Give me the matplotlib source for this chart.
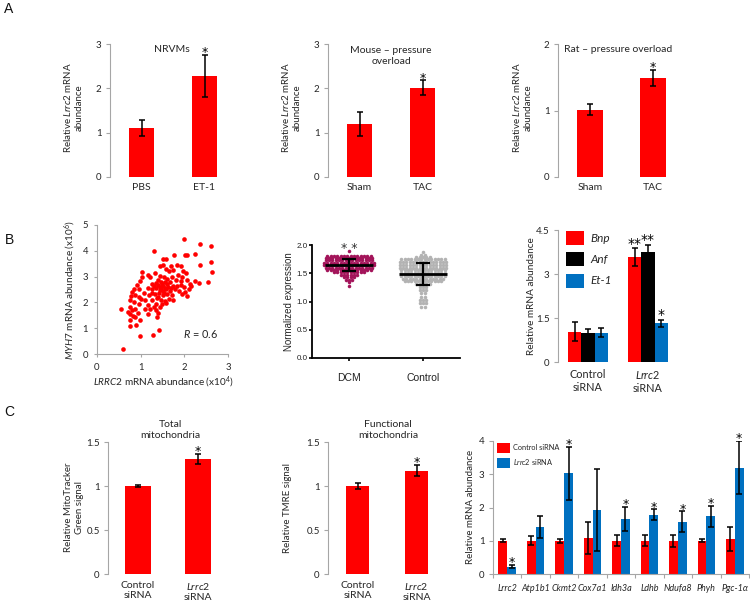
import matplotlib
matplotlib.use('Agg')
import matplotlib.pyplot as plt
from matplotlib.patches import Patch
import numpy as np

plt.rcParams['font.family'] = ['Lato', 'DejaVu Sans']
plt.rcParams['mathtext.fontset'] = 'custom'
plt.rcParams['mathtext.rm'] = 'Lato'
plt.rcParams['mathtext.it'] = 'Lato:italic'
plt.rcParams['mathtext.bf'] = 'Lato:bold'

# ---------------- data ----------------
# Panel A
a1_cats = ['PBS', 'ET-1']
a1_vals = [1.10, 2.28]
a1_err = [0.175, 0.47]
a1_sig = ['', '*']

a2_cats = ['Sham', 'TAC']
a2_vals = [1.20, 2.01]
a2_err = [0.27, 0.17]
a2_sig = ['', '*']

a3_cats = ['Sham', 'TAC']
a3_vals = [1.01, 1.49]
a3_err = [0.085, 0.125]
a3_sig = ['', '*']

# Panel B1 scatter (LRRC2 x10^4, MYH7 x10^6)
scat_x = [1.99, 2.36, 2.60, 1.31, 1.77, 2.02, 2.07, 2.25, 1.51, 1.57, 2.62, 2.37, 1.45, 1.51,
          1.70, 1.83, 1.93, 1.02, 1.16, 1.32, 1.58, 1.66, 1.75, 1.98, 2.04, 2.63, 1.02, 1.21,
          1.45, 1.54, 1.61, 1.72, 1.86, 1.95, 0.98, 2.24, 2.33, 2.54, 1.39, 1.46, 1.55, 1.67,
          1.81, 1.92, 2.05, 2.12, 0.91, 1.25, 1.31, 1.40, 1.51, 1.60, 1.74, 1.83, 1.93, 1.99,
          2.16, 0.85, 0.81, 0.97, 1.17, 1.26, 1.34, 1.46, 1.57, 1.67, 1.78, 1.87, 2.01, 2.10,
          0.78, 0.88, 0.96, 1.08, 1.19, 1.25, 1.32, 1.42, 1.51, 1.61, 1.72, 1.95, 2.05, 0.75,
          0.85, 1.00, 1.11, 1.25, 1.37, 1.46, 1.55, 1.64, 1.74, 1.35, 1.48, 1.58, 0.96, 1.17,
          1.31, 0.75, 0.81, 0.87, 1.11, 1.22, 1.34, 1.45, 0.56, 0.72, 0.76, 0.83, 0.88, 0.99,
          0.75, 0.94, 1.17, 1.39, 1.37, 0.75, 0.90, 0.99, 1.29, 1.43, 0.59, 1.45, 1.50, 1.40,
          1.55, 1.35, 1.62, 1.70, 1.48, 1.53, 1.44]
scat_y = [4.44, 4.26, 4.20, 3.98, 3.85, 3.82, 3.85, 3.88, 3.70, 3.67, 3.55, 3.46, 3.41, 3.46,
          3.41, 3.45, 3.42, 3.18, 3.05, 3.13, 3.28, 3.23, 3.26, 3.20, 3.13, 3.17, 3.00, 2.97,
          3.02, 2.97, 2.89, 3.00, 3.05, 3.00, 2.84, 2.84, 2.74, 2.78, 2.87, 2.80, 2.80, 2.78,
          2.87, 2.84, 2.87, 2.71, 2.67, 2.70, 2.64, 2.67, 2.64, 2.71, 2.64, 2.64, 2.67, 2.58,
          2.64, 2.51, 2.42, 2.52, 2.57, 2.51, 2.55, 2.51, 2.53, 2.45, 2.51, 2.45, 2.42, 2.51,
          2.25, 2.29, 2.22, 2.35, 2.29, 2.38, 2.33, 2.35, 2.29, 2.33, 2.27, 2.33, 2.25, 2.09,
          2.03, 2.14, 2.09, 2.09, 2.16, 2.09, 2.07, 2.14, 2.09, 1.94, 1.94, 1.99, 1.94, 1.90,
          1.83, 1.83, 1.71, 1.76, 1.73, 1.73, 1.71, 1.81, 1.76, 1.64, 1.55, 1.47, 1.42, 1.32,
          1.32, 1.58, 1.55, 1.60, 1.42, 1.10, 1.11, 0.71, 0.75, 0.93, 0.19, 2.60, 2.45, 2.20,
          2.55, 2.75, 2.60, 2.55, 2.70, 2.38, 2.48]

# Panel B2 dot plot: value levels and number of samples per level
dcm_levels = [1.90, 1.81, 1.77, 1.73, 1.69, 1.65, 1.60, 1.56, 1.52, 1.47, 1.43, 1.38, 1.34, 1.28]
dcm_counts = [1, 14, 15, 15, 16, 16, 15, 14, 10, 6, 4, 3, 1, 1]
dcm_mean, dcm_sd = 1.64, 0.105
ctl_levels = [1.88, 1.83, 1.79, 1.75, 1.70, 1.65, 1.60, 1.55, 1.50, 1.45, 1.40, 1.36, 1.31,
              1.25, 1.20, 1.15, 1.08, 1.02, 0.97, 0.91]
ctl_counts = [1, 2, 5, 14, 15, 15, 15, 14, 14, 14, 13, 12, 5, 3, 3, 2, 2, 3, 3, 2]
ctl_mean, ctl_sd = 1.49, 0.20
b2_cats = ['DCM', 'Control']

# Panel B3
b3_groups = ['Control\nsiRNA', '$\\mathit{Lrrc2}$\nsiRNA']
b3_series = ['Bnp', 'Anf', 'Et-1']
b3_vals = {'Bnp': [1.03, 3.57], 'Anf': [0.98, 3.75], 'Et-1': [1.00, 1.32]}
b3_err = {'Bnp': [0.33, 0.30], 'Anf': [0.16, 0.24], 'Et-1': [0.15, 0.12]}
b3_sig = {'Bnp': ['', '**'], 'Anf': ['', '**'], 'Et-1': ['', '*']}

# Panel C
c1_cats = ['Control\nsiRNA', '$\\mathit{Lrrc2}$\nsiRNA']
c1_vals = [1.00, 1.31]
c1_err = [0.015, 0.055]
c1_sig = ['', '*']

c2_cats = ['Control\nsiRNA', '$\\mathit{Lrrc2}$\nsiRNA']
c2_vals = [1.00, 1.175]
c2_err = [0.035, 0.065]
c2_sig = ['', '*']

c3_genes = ['Lrrc2', 'Atp1b1', 'Ckmt2', 'Cox7a1', 'Idh3a', 'Ldhb', 'Ndufa8', 'Phyh', 'Pgc-1α']
c3_ctrl = [1.00, 1.00, 1.00, 1.07, 1.00, 1.00, 1.00, 1.00, 1.05]
c3_ctrl_err = [0.04, 0.14, 0.06, 0.48, 0.16, 0.16, 0.18, 0.04, 0.37]
c3_si = [0.22, 1.40, 3.03, 1.92, 1.65, 1.78, 1.57, 1.73, 3.20]
c3_si_err = [0.05, 0.33, 0.79, 1.24, 0.37, 0.16, 0.31, 0.33, 0.80]
c3_sig = ['*', '', '*', '', '*', '*', '*', '*', '*']

# ---------------- style ----------------
RED = '#ff0000'
BLUE = '#0070c0'
GRAY = '#a6a6a6'
TXT = '#262626'
DCM_C = '#a3145a'
CTL_C = '#b3b3b3'
STAR_FONT = ['DejaVu Sans']

W, H = 750, 601
fig = plt.figure(figsize=(7.5, 6.01), dpi=100)
fig.patch.set_facecolor('white')


def axpx(l, t, r, b):
    return fig.add_axes([l / W, 1 - b / H, (r - l) / W, (b - t) / H])


def ftext(x, y, s, **kw):
    kw.setdefault('color', TXT)
    return fig.text(x / W, 1 - y / H, s, **kw)


def star(ax, x, y, s, size=9, off=-1.0):
    ax.annotate(s, (x, y), xytext=(0, off), textcoords='offset points', ha='center',
                va='baseline', fontsize=size, color='black', family=STAR_FONT,
                annotation_clip=False)


def excel_axis(ax, ymax, yticks, labels=None, ylab_size=7):
    ax.set_ylim(0, ymax)
    for s in ['top', 'right', 'bottom']:
        ax.spines[s].set_visible(False)
    ax.spines['left'].set_color(GRAY)
    ax.spines['left'].set_linewidth(0.8)
    ax.tick_params(axis='y', colors=GRAY, labelcolor=TXT, length=3, width=0.8,
                   labelsize=ylab_size, pad=3)
    ax.tick_params(axis='x', length=0, labelsize=7.5, labelcolor=TXT, pad=4)
    ax.set_yticks(yticks)
    if labels is not None:
        ax.set_yticklabels(labels)
    ax.patch.set_visible(False)


def simple_bars(ax, cats, vals, errs, sigs, width, ymax, yticks, star_size=9):
    x = np.arange(len(cats))
    ax.bar(x, vals, width=width, color=RED, zorder=2)
    ax.errorbar(x, vals, yerr=errs, fmt='none', ecolor='black', elinewidth=1.1,
                capsize=2.2, capthick=1.1, zorder=3)
    for xi, v, e, s in zip(x, vals, errs, sigs):
        if s:
            star(ax, xi, v + e, s, size=star_size)
    ax.set_xlim(-0.5, len(cats) - 0.5)
    ax.set_xticks(x)
    ax.set_xticklabels(cats)
    excel_axis(ax, ymax, yticks)


# ---------------- Panel A ----------------
ax = axpx(110, 44, 236, 177)
simple_bars(ax, a1_cats, a1_vals, a1_err, a1_sig, 0.41, 3, [0, 1, 2, 3])
ax = axpx(328, 44, 454, 177)
simple_bars(ax, a2_cats, a2_vals, a2_err, a2_sig, 0.41, 3, [0, 1, 2, 3])
ax = axpx(558, 44, 685, 177)
simple_bars(ax, a3_cats, a3_vals, a3_err, a3_sig, 0.41, 2, [0, 1, 2])

ftext(172, 50, 'NRVMs', ha='center', va='center', fontsize=7.5)
ftext(391, 56, 'Mouse – pressure\noverload', ha='center', va='center', fontsize=7.5,
      linespacing=1.15)
ftext(618, 50, 'Rat – pressure overload', ha='center', va='center', fontsize=7.5)
ylab_a = 'Relative $\\mathit{Lrrc2}$ mRNA\nabundance'
for xc in (73, 291, 522):
    ftext(xc, 108, ylab_a, ha='center', va='center', rotation=90, fontsize=7,
          linespacing=1.2)

# ---------------- Panel B1 scatter ----------------
ax = axpx(97, 225, 228, 354)
ax.scatter(scat_x, scat_y, s=11, color=RED, linewidths=0, zorder=3)
ax.set_xlim(0, 3)
ax.set_ylim(0, 5)
ax.set_xticks([0, 1, 2, 3])
ax.set_yticks([0, 1, 2, 3, 4, 5])
for s in ['top', 'right']:
    ax.spines[s].set_visible(False)
for s in ['left', 'bottom']:
    ax.spines[s].set_color(GRAY)
    ax.spines[s].set_linewidth(0.8)
ax.tick_params(colors=GRAY, labelcolor=TXT, length=2.5, width=0.8, labelsize=6.8)
ax.tick_params(axis='x', pad=4)
ax.tick_params(axis='y', pad=4)
ax.patch.set_visible(False)
ax.text(0.92, 0.155, '$\\mathit{R}$ = 0.6', transform=ax.transAxes, ha='right',
        va='center', fontsize=7.8, color=TXT)
ftext(70, 290, '$\\mathit{MYH7}$ mRNA abundance (x10$^{6}$)', ha='center', va='center',
      rotation=90, fontsize=7.2)
ftext(163, 382, '$\\mathit{LRRC2}$ mRNA abundance (x10$^{4}$)', ha='center', va='center',
      fontsize=7.2)

# ---------------- Panel B2 dot plot ----------------
ax = axpx(312, 245, 460, 358)
dx = 0.045
for center, levels, counts, col in ((0.5, dcm_levels, dcm_counts, DCM_C),
                                    (1.5, ctl_levels, ctl_counts, CTL_C)):
    for lv, n in zip(levels, counts):
        xs = center + (np.arange(n) - (n - 1) / 2) * dx
        ax.scatter(xs, np.full(n, lv), s=6.5, color=col, linewidths=0, zorder=2,
                   clip_on=False)
for center, m, sd in ((0.5, dcm_mean, dcm_sd), (1.5, ctl_mean, ctl_sd)):
    ax.plot([center - 0.33, center + 0.33], [m, m], color='black', lw=2.0, zorder=4,
            solid_capstyle='butt')
    ax.errorbar([center], [m], yerr=[sd], fmt='none', ecolor='black', elinewidth=1.6,
                capsize=5, capthick=1.6, zorder=4)
ax.annotate('* *', (0.5, 1.93), ha='center', va='center', fontsize=9, color='#333333',
            family=STAR_FONT, annotation_clip=False)
ax.set_xlim(0, 2)
ax.set_ylim(0, 2)
ax.set_yticks([0, 0.5, 1.0, 1.5, 2.0])
ax.set_yticklabels(['0.0', '0.5', '1.0', '1.5', '2.0'])
ax.set_xticks([0.5, 1.5])
ax.set_xticklabels(b2_cats)
for s in ['top', 'right']:
    ax.spines[s].set_visible(False)
for s in ['left', 'bottom']:
    ax.spines[s].set_linewidth(1.3)
ax.tick_params(length=2, width=1.2, labelsize=5.8, color='black', labelcolor='#222222')
ax.tick_params(axis='x', labelsize=7.5, pad=9)
ax.tick_params(axis='y', pad=1)
for lab in ax.get_xticklabels() + ax.get_yticklabels():
    lab.set_family(['Liberation Sans'])
ax.patch.set_visible(False)
ftext(289, 302, 'Normalized expression', ha='center', va='center', rotation=90,
      fontsize=7, family=['Liberation Sans'])

# ---------------- Panel B3 ----------------
ax = axpx(558, 230, 678, 362)
bw = 0.217
cols = {'Bnp': RED, 'Anf': 'black', 'Et-1': BLUE}
xg = np.arange(len(b3_groups))
for i, sname in enumerate(b3_series):
    xs = xg + (i - 1) * bw
    ax.bar(xs, b3_vals[sname], width=bw, color=cols[sname], zorder=2, label=sname)
    ax.errorbar(xs, b3_vals[sname], yerr=b3_err[sname], fmt='none', ecolor='black',
                elinewidth=1.1, capsize=2.2, capthick=1.1, zorder=3)
    for xi, v, e, s in zip(xs, b3_vals[sname], b3_err[sname], b3_sig[sname]):
        if s:
            star(ax, xi, v + e, s, size=10, off=0.5)
ax.set_xlim(-0.5, 1.5)
ax.set_xticks(xg)
ax.set_xticklabels(b3_groups)
excel_axis(ax, 4.5, [0, 1.5, 3, 4.5], ['0', '1.5', '3', '4.5'])
ax.tick_params(axis='x', labelsize=7.8, pad=5)
for lab in ax.get_xticklabels():
    lab.set_linespacing(1.25)
handles = [Patch(facecolor=cols[s], edgecolor='none') for s in b3_series]
leg = ax.legend(handles, b3_series, loc='upper left', bbox_to_anchor=(0.07, 0.99),
                frameon=False, fontsize=8.5, handlelength=1.5, handleheight=1.45,
                handletextpad=0.55, labelspacing=0.6, borderaxespad=0, borderpad=0)
for t in leg.get_texts():
    t.set_fontstyle('italic')
    t.set_color(TXT)
ftext(532, 296, 'Relative mRNA abundance', ha='center', va='center', rotation=90,
      fontsize=7.2)

# ---------------- Panel C1 / C2 ----------------
ax = axpx(108, 442, 228, 574)
simple_bars(ax, c1_cats, c1_vals, c1_err, c1_sig, 0.42, 1.5, [0, 0.5, 1, 1.5])
ax.set_yticklabels(['0', '0.5', '1', '1.5'])
ax.tick_params(axis='x', pad=5)
ax = axpx(328, 442, 446, 574)
simple_bars(ax, c2_cats, c2_vals, c2_err, c2_sig, 0.39, 1.5, [0, 0.5, 1, 1.5])
ax.set_yticklabels(['0', '0.5', '1', '1.5'])
ax.tick_params(axis='x', pad=5)
ftext(170, 430, 'Total\nmitochondria', ha='center', va='center', fontsize=7.5,
      linespacing=1.2)
ftext(388, 430, 'Functional\nmitochondria', ha='center', va='center', fontsize=7.5,
      linespacing=1.2)
ftext(74, 507, 'Relative MitoTracker\nGreen signal', ha='center', va='center',
      rotation=90, fontsize=7, linespacing=1.2)
ftext(287, 508, 'Relative TMRE signal', ha='center', va='center', rotation=90,
      fontsize=7)

# ---------------- Panel C3 ----------------
ax = axpx(493, 441, 749, 574)
xg = np.arange(len(c3_genes))
w3 = 0.31
ax.bar(xg - w3 / 2, c3_ctrl, width=w3, color=RED, zorder=2)
ax.bar(xg + w3 / 2, c3_si, width=w3, color=BLUE, zorder=2)
ax.errorbar(xg - w3 / 2, c3_ctrl, yerr=c3_ctrl_err, fmt='none', ecolor='black',
            elinewidth=1.1, capsize=2.0, capthick=1.1, zorder=3)
ax.errorbar(xg + w3 / 2, c3_si, yerr=c3_si_err, fmt='none', ecolor='black',
            elinewidth=1.1, capsize=2.0, capthick=1.1, zorder=3)
for xi, v, e, s in zip(xg + w3 / 2, c3_si, c3_si_err, c3_sig):
    if s:
        star(ax, xi, v + e, s, size=9)
ax.set_xlim(-0.5, len(c3_genes) - 0.5)
ax.set_xticks(xg)
ax.set_xticklabels(c3_genes, fontstyle='italic')
excel_axis(ax, 4, [0, 1, 2, 3, 4])
ax.spines['bottom'].set_visible(True)
ax.spines['bottom'].set_color(GRAY)
ax.spines['bottom'].set_linewidth(0.8)
ax.set_xticks(np.arange(len(c3_genes) + 1) - 0.5, minor=True)
ax.tick_params(axis='x', which='minor', length=3, color=GRAY, width=0.8)
ax.tick_params(axis='x', which='major', length=0, labelsize=6.5, pad=7)
handles = [Patch(facecolor=RED, edgecolor='none'), Patch(facecolor=BLUE, edgecolor='none')]
leg = ax.legend(handles, ['Control siRNA', '$\\mathit{Lrrc2}$ siRNA'], loc='upper left',
                bbox_to_anchor=(0.016, 0.985), frameon=False, fontsize=5.3,
                handlelength=1.75, handleheight=1.75, handletextpad=0.35,
                labelspacing=0.55, borderaxespad=0, borderpad=0)
for t in leg.get_texts():
    t.set_color(TXT)
ftext(470, 507, 'Relative mRNA abundance', ha='center', va='center', rotation=90,
      fontsize=7)

# ---------------- panel letters ----------------
for lt, (x, y) in (('A', (9, 9)), ('B', (9, 240)), ('C', (9, 412))):
    ftext(x, y, lt, ha='center', va='center', fontsize=10, family=['Liberation Sans'],
          color='#111111')

fig.savefig('out.png', dpi=100, facecolor='white')
